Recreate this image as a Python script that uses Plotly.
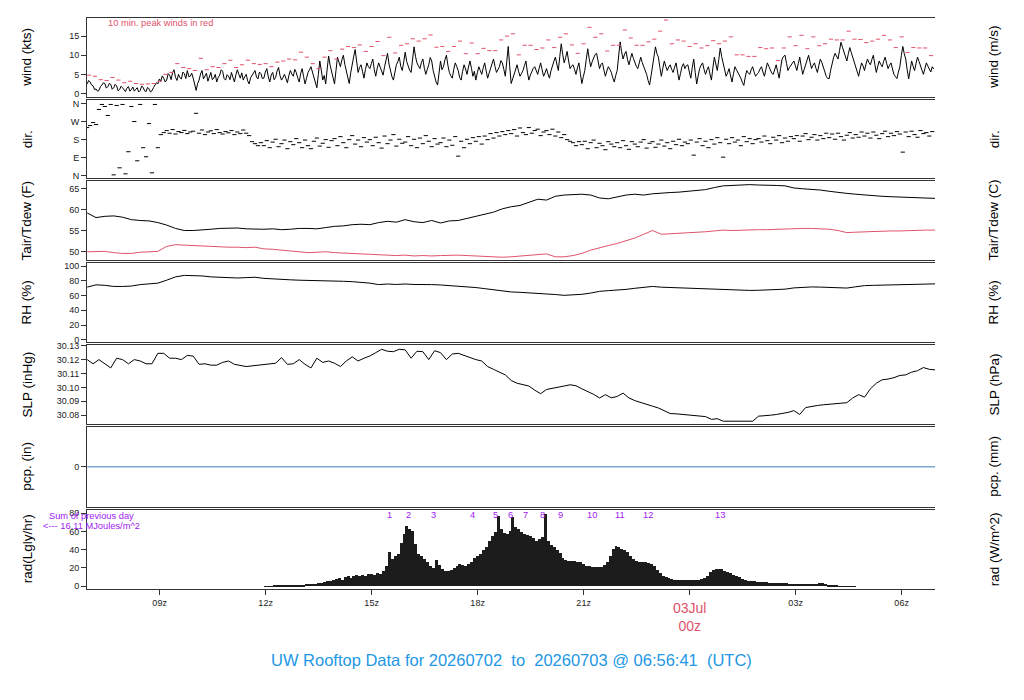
import pandas as pd
import plotly.graph_objects as go

# ---------------- data ----------------
RANGE_START = "2026-07-02 06:56:41"
RANGE_END = "2026-07-03 06:56:41"

# 2.5-minute wind speed (kts) from 06:57 Jul 02 (one row = one hour)
wind_kts = [
    2.5, 3.4, 3.0, 2.2, 2.0, 1.0, 1.2, 0.6, 0.8, 1.8, 2.2, 2.8, 2.6, 1.4, 1.8, 2.6, 2.4, 1.1, 1.5, 2.4, 2.0, 0.7, 1.0, 1.9,
    1.5, 0.9, 0.5, 1.4, 1.8, 0.6, 1.0, 1.7, 0.6, 1.1, 1.5, 0.4, 0.8, 1.9, 1.6, 0.7, 0.5, 1.6, 1.2, 0.4, 0.7, 1.5, 2.0, 2.8,
    2.5, 3.8, 3.2, 4.6, 4.0, 3.0, 3.5, 5.2, 4.8, 3.6, 5.5, 6.2, 4.2, 3.4, 5.0, 4.1, 3.8, 5.6, 5.2, 3.9, 6.0, 4.4, 4.5, 5.3,
    4.0, 2.2, 0.8, 2.6, 3.5, 5.1, 6.0, 3.8, 4.5, 5.3, 3.2, 4.6, 5.5, 3.6, 4.0, 5.0, 3.0, 4.2, 4.8, 6.2, 5.8, 3.9, 3.5, 4.9,
    4.5, 3.6, 5.5, 4.2, 3.0, 4.9, 6.2, 5.0, 4.0, 5.4, 3.5, 4.4, 5.0, 3.3, 2.5, 4.1, 4.8, 5.7, 6.0, 4.3, 3.8, 5.6, 5.2, 3.9,
    4.0, 5.6, 6.5, 4.4, 3.0, 4.8, 5.5, 3.6, 4.2, 5.9, 6.8, 4.6, 3.5, 4.2, 5.0, 3.9, 2.8, 4.7, 6.0, 5.1, 4.5, 6.3, 5.5, 4.1,
    3.0, 5.2, 6.5, 4.4, 2.5, 4.0, 5.5, 6.2, 7.0, 5.6, 4.0, 2.8, 1.5, 5.0, 8.5, 6.1, 3.5, 4.7, 2.5, 6.4, 9.8, 7.4, 6.0, 4.0,
    2.5, 6.0, 9.5, 8.2, 7.0, 8.8, 10.0, 7.6, 6.0, 4.1, 2.6, 5.4, 8.0, 9.6, 11.5, 7.9, 5.5, 6.8, 7.5, 5.8, 4.0, 6.3, 8.0, 7.0,
    6.5, 7.8, 9.0, 6.2, 4.5, 6.6, 8.0, 6.9, 5.5, 4.8, 7.0, 8.7, 10.5, 7.7, 6.0, 4.4, 3.5, 5.9, 7.5, 8.3, 9.5, 7.1, 6.0, 8.2,
    10.8, 8.4, 7.0, 6.1, 5.5, 9.3, 12.2, 9.7, 8.0, 7.2, 6.5, 8.1, 9.0, 6.6, 5.0, 6.3, 7.5, 9.4, 8.5, 6.0, 4.0, 3.0, 2.2, 5.5,
    8.5, 6.2, 7.0, 8.8, 10.0, 7.4, 5.5, 4.6, 4.0, 6.3, 8.0, 7.1, 6.0, 4.2, 3.5, 5.8, 7.5, 6.4, 5.0, 6.9, 8.5, 6.6, 4.5, 5.8,
    3.5, 5.4, 7.0, 6.0, 5.0, 6.7, 8.0, 5.9, 4.0, 5.3, 6.5, 7.9, 9.0, 7.1, 5.5, 6.2, 7.0, 8.6, 8.0, 6.3, 4.5, 8.4, 12.3, 7.0,
    2.6, 3.8, 5.0, 6.4, 7.5, 5.8, 4.5, 5.2, 6.0, 7.3, 8.5, 5.6, 3.5, 4.8, 6.0, 6.6, 7.0, 6.1, 5.0, 6.6, 8.0, 6.2, 4.5, 5.4,
    6.5, 5.1, 4.0, 5.9, 7.5, 8.4, 9.5, 7.7, 6.0, 9.6, 13.0, 10.2, 8.0, 9.4, 11.0, 8.5, 6.5, 7.2, 7.5, 6.3, 5.0, 6.7, 8.0, 5.2,
    2.6, 4.4, 6.0, 8.9, 11.7, 9.1, 7.0, 8.3, 9.5, 10.2, 10.5, 8.4, 6.5, 7.6, 8.0, 6.1, 4.5, 5.9, 7.0, 6.3, 5.5, 4.1, 3.0, 4.7,
    6.0, 9.8, 13.5, 10.9, 9.0, 10.3, 11.0, 8.9, 7.5, 9.1, 10.5, 9.2, 8.0, 7.1, 6.5, 8.2, 9.5, 8.1, 7.0, 6.2, 5.0, 3.4, 2.2, 4.6,
    7.0, 9.9, 12.2, 10.4, 9.5, 6.8, 4.5, 6.6, 8.5, 7.1, 6.0, 6.9, 7.5, 6.3, 5.5, 6.9, 8.0, 5.6, 3.5, 5.2, 7.0, 7.8, 6.5, 7.3,
    7.5, 5.6, 4.0, 6.8, 9.0, 5.5, 2.5, 4.6, 6.5, 7.4, 8.0, 6.3, 5.0, 6.2, 7.0, 5.1, 3.5, 6.7, 9.5, 7.7, 6.0, 8.8, 11.9, 9.6,
    8.0, 6.1, 4.5, 5.4, 6.5, 4.6, 3.0, 5.2, 7.0, 6.2, 5.5, 4.6, 4.0, 2.9, 2.1, 4.3, 6.0, 5.4, 5.0, 6.2, 7.0, 5.6, 4.5, 5.0,
    5.5, 6.4, 7.0, 5.6, 4.5, 6.3, 8.0, 7.1, 6.0, 5.3, 5.0, 6.4, 7.5, 5.7, 4.0, 6.6, 9.0, 9.7, 10.0, 7.9, 6.0, 6.8, 7.5, 8.1,
    8.5, 7.3, 6.0, 7.8, 9.5, 7.1, 5.0, 6.3, 7.5, 8.9, 10.0, 8.2, 6.5, 7.4, 8.0, 6.6, 5.5, 7.4, 9.0, 8.1, 7.0, 5.5, 4.5, 3.9,
    3.9, 6.1, 8.0, 9.4, 10.5, 9.6, 9.0, 11.2, 13.4, 12.1, 11.0, 9.6, 8.5, 10.4, 12.0, 10.7, 9.5, 8.2, 7.0, 5.6, 4.5, 6.4, 8.0, 7.2,
    6.0, 7.7, 9.0, 8.1, 7.5, 8.9, 10.0, 7.6, 5.5, 7.1, 8.5, 7.6, 7.0, 8.4, 9.5, 7.9, 6.5, 7.4, 8.0, 6.4, 5.0, 4.4, 3.9, 5.6,
    7.0, 9.9, 12.3, 10.4, 9.0, 6.1, 3.8, 6.2, 8.5, 7.1, 6.0, 7.9, 9.5, 8.4, 7.5, 6.1, 5.0, 6.6, 8.0, 7.2, 6.5, 5.6, 7.0, 6.4,
]

# 10-minute peak wind (kts) from 07:00 Jul 02
peak_kts = [
    4.8, 4.5, 3.6, 3.4, 4.2, 3.5, 2.8, 3.2, 2.6, 2.4, 2.5, 2.6,
    3.2, 5.0, 5.5, 7.8, 6.8, 6.5, 6.0, 9.2, 6.2, 7.0, 6.8, 7.8,
    8.7, 6.8, 7.5, 8.7, 7.8, 7.6, 7.8, 7.0, 8.2, 8.5, 9.0, 8.8,
    10.8, 9.5, 7.8, 6.5, 9.5, 11.2, 9.0, 11.6, 12.3, 12.0, 12.7, 11.0,
    12.3, 13.6, 9.9, 14.7, 10.6, 12.6, 13.0, 14.3, 13.7, 14.3, 15.3, 12.1,
    12.3, 11.0, 12.3, 13.7, 10.4, 13.2, 10.4, 11.8, 11.2, 11.2, 14.0, 15.0,
    15.6, 10.1, 12.6, 12.6, 11.5, 11.9, 14.0, 12.0, 14.7, 15.6, 12.7, 10.5,
    13.0, 17.3, 14.7, 15.6, 11.1, 12.6, 12.6, 16.6, 14.5, 12.6, 12.6, 13.5,
    14.2, 16.3, 19.2, 13.0, 14.0, 13.7, 12.3, 13.0, 11.9, 12.5, 13.8, 13.0,
    13.7, 14.8, 10.1, 10.1, 9.7, 9.7, 12.0, 11.7, 11.9, 8.6, 11.9, 14.8,
    12.5, 15.2, 11.7, 14.8, 12.5, 13.0, 14.2, 14.0, 14.0, 16.3, 14.2, 14.1,
    13.3, 13.7, 14.2, 15.2, 14.0, 12.0, 14.8, 10.7, 12.0, 11.9, 11.9, 9.9,
]

# 5-minute wind direction (deg) from 06:57 Jul 02
dir_deg = [
    240, 250, 265, 255, 330, 355, 345, 300, 355, 5, 350, 40,
    355, 10, 120, 345, 270, 75, 355, 140, 95, 260, 15, 355,
    140, 205, 215, 225, 212, 230, 208, 220, 215, 226, 210, 218,
    222, 311, 212, 228, 205, 218, 224, 210, 230, 215, 208, 220,
    214, 225, 205, 218, 210, 228, 212, 200, 170, 160, 150, 165,
    150, 175, 140, 168, 182, 145, 160, 178, 135, 170, 155, 185,
    165, 140, 178, 150, 135, 172, 188, 148, 162, 180, 142, 175,
    185, 150, 195, 165, 140, 180, 200, 158, 178, 145, 190, 168,
    180, 150, 192, 165, 138, 198, 160, 178, 205, 148, 182, 162,
    168, 195, 150, 182, 140, 188, 160, 200, 172, 145, 185, 158,
    165, 188, 145, 178, 152, 195, 98, 172, 140, 182, 160, 190,
    172, 195, 158, 198, 180, 210, 188, 215, 198, 220, 205, 225,
    210, 230, 198, 238, 215, 205, 240, 212, 225, 232, 200, 218,
    225, 205, 232, 198, 218, 190, 205, 180, 172, 165, 150, 170,
    155, 172, 135, 165, 178, 140, 162, 150, 130, 170, 158, 145,
    165, 140, 175, 150, 132, 170, 158, 145, 168, 180, 138, 162,
    170, 142, 158, 178, 148, 165, 135, 172, 155, 182, 150, 168,
    160, 178, 103, 168, 185, 150, 172, 140, 180, 158, 190, 165,
    93, 182, 160, 190, 168, 178, 150, 195, 170, 185, 160, 180,
    185, 168, 198, 175, 160, 192, 178, 200, 165, 188, 172, 195,
    185, 200, 172, 198, 210, 180, 192, 205, 178, 200, 185, 212,
    190, 208, 182, 212, 195, 178, 202, 215, 188, 205, 192, 218,
    198, 212, 188, 218, 202, 185, 210, 222, 195, 212, 200, 220,
    208, 118, 218, 195, 222, 205, 192, 225, 210, 215, 198, 220,
]

# 15-minute air temperature and dew point (F) from 06:57 Jul 02
tair_f = [
    59.2, 58.1, 58.4, 58.5, 58.2, 57.6, 57.4, 57.3, 56.9, 56.3, 55.5, 55.0,
    55.0, 55.1, 55.3, 55.5, 55.5, 55.6, 55.4, 55.3, 55.3, 55.4, 55.2, 55.3,
    55.5, 55.5, 55.4, 55.7, 56.0, 56.1, 56.4, 56.5, 56.4, 56.9, 57.2, 57.0,
    57.6, 57.1, 56.9, 57.4, 56.8, 57.3, 57.4, 57.9, 58.4, 58.8, 59.4, 60.2,
    60.7, 61.0, 61.8, 62.5, 62.3, 63.2, 63.5, 63.6, 63.7, 63.5, 62.8, 62.6,
    63.0, 63.5, 63.7, 63.5, 63.8, 64.0, 64.1, 64.2, 64.4, 64.6, 64.8, 65.3,
    65.7, 65.8, 65.9, 66.0, 65.9, 65.9, 65.8, 65.7, 65.2, 65.0, 64.9, 64.7,
    64.4, 64.1, 63.9, 63.7, 63.5, 63.3, 63.2, 63.1, 63.0, 62.9, 62.8, 62.7,
    62.7,
]
tdew_f = [
    49.9, 50.0, 50.0, 49.7, 49.5, 49.5, 49.8, 49.9, 50.0, 51.2, 51.6, 51.5,
    51.4, 51.2, 51.1, 51.0, 51.0, 51.0, 50.9, 51.0, 50.6, 50.5, 50.3, 50.1,
    50.0, 49.7, 49.8, 49.9, 49.7, 49.6, 49.5, 49.3, 49.2, 49.2, 49.0, 49.0,
    49.1, 48.9, 49.0, 48.9, 49.0, 49.1, 49.1, 49.0, 48.9, 48.8, 48.7, 48.6,
    48.7, 48.9, 49.0, 49.2, 49.4, 48.7, 48.7, 49.0, 49.5, 50.3, 50.9, 51.4,
    51.9, 52.6, 53.2, 54.1, 55.0, 54.1, 54.2, 54.3, 54.4, 54.5, 54.7, 54.9,
    55.1, 55.0, 55.1, 55.2, 55.2, 55.2, 55.3, 55.4, 55.4, 55.5, 55.5, 55.4,
    55.3, 55.0, 54.5, 54.6, 54.7, 54.8, 54.8, 54.9, 54.9, 55.0, 55.0, 55.1,
    55.1,
]

# 15-minute relative humidity (%) from 06:57 Jul 02
rh_pct = [
    71.6, 74.7, 74.0, 72.5, 72.5, 73.0, 75.0, 76.0, 77.0, 81.0, 85.5, 87.5,
    87.5, 86.8, 85.5, 84.8, 84.2, 84.0, 84.5, 85.0, 83.5, 82.5, 82.0, 81.5,
    81.0, 80.5, 80.0, 80.5, 80.0, 79.5, 79.0, 78.4, 77.0, 75.0, 75.8, 75.2,
    75.8, 75.2, 75.5, 75.0, 74.5, 73.8, 73.0, 72.3, 71.0, 69.5, 67.8, 66.5,
    65.0, 64.5, 64.0, 63.0, 62.6, 61.5, 60.4, 60.8, 61.8, 63.5, 65.8, 66.8,
    67.5, 68.5, 70.0, 71.5, 72.5, 71.5, 71.0, 70.8, 70.5, 70.3, 70.0, 69.0,
    68.3, 68.0, 67.5, 67.1, 67.3, 67.8, 68.2, 68.8, 70.5, 71.6, 71.8, 71.6,
    71.0, 70.6, 70.3, 72.0, 73.6, 74.0, 74.3, 74.5, 74.7, 75.0, 75.4, 75.8,
    76.0,
]

# 10-minute sea level pressure (inHg) from 06:57 Jul 02
slp_inhg = [
    30.120, 30.117, 30.120, 30.117, 30.114, 30.121, 30.120, 30.117, 30.120, 30.119, 30.117, 30.117,
    30.1245, 30.1245, 30.121, 30.121, 30.120, 30.123, 30.1225, 30.1166, 30.117, 30.116, 30.116, 30.118,
    30.119, 30.1166, 30.116, 30.115, 30.1155, 30.116, 30.1166, 30.117, 30.1174, 30.1214, 30.1166, 30.117,
    30.120, 30.1166, 30.114, 30.121, 30.118, 30.119, 30.1174, 30.115, 30.119, 30.122, 30.119, 30.121,
    30.1226, 30.125, 30.1274, 30.126, 30.1257, 30.1274, 30.127, 30.121, 30.126, 30.1257, 30.120, 30.1264,
    30.125, 30.120, 30.124, 30.1245, 30.123, 30.121, 30.120, 30.119, 30.115, 30.113, 30.111, 30.109,
    30.105, 30.103, 30.102, 30.101, 30.098, 30.0955, 30.0985, 30.0995, 30.100, 30.101, 30.1019, 30.1012,
    30.099, 30.097, 30.095, 30.0924, 30.0948, 30.0925, 30.0935, 30.0959, 30.0924, 30.0905, 30.089, 30.0876,
    30.0865, 30.0852, 30.083, 30.0812, 30.081, 30.0805, 30.080, 30.0795, 30.0793, 30.079, 30.077, 30.0775,
    30.0757, 30.0757, 30.076, 30.0757, 30.0762, 30.0757, 30.0793, 30.0795, 30.080, 30.0805, 30.0812, 30.082,
    30.0833, 30.0805, 30.0855, 30.0864, 30.087, 30.0875, 30.088, 30.0885, 30.0888, 30.089, 30.0924, 30.0948,
    30.093, 30.099, 30.103, 30.1055, 30.106, 30.107, 30.1086, 30.109, 30.111, 30.112, 30.1143, 30.113,
    30.1126,
]

# hourly precipitation (in)
pcp_in = [0.0] * 25

# 5-minute solar radiation (Langley/hr) from 12:00 Jul 02
rad_lyhr = [
    0.3, 0.4, 0.5, 0.6, 0.7, 0.8, 1.0, 1.1, 1.3, 1.5, 1.6, 1.8,
    1.9, 2.1, 2.3, 2.5, 2.8, 3.2, 3.6, 4.2, 5.0, 5.8, 6.5, 7.5,
    8.0, 9.0, 7.5, 10.0, 11.0, 9.0, 12.0, 12.5, 11.0, 13.0, 12.0, 14.0,
    14.0, 13.0, 15.0, 14.0, 17.0, 23.0, 38.0, 30.0, 34.0, 36.0, 48.0, 58.0,
    67.0, 63.0, 61.0, 47.0, 36.0, 34.0, 30.0, 27.0, 22.0, 20.0, 29.0, 24.0,
    19.0, 17.0, 17.5, 18.5, 20.0, 22.0, 25.0, 24.0, 23.0, 25.0, 27.0, 31.0,
    33.0, 36.0, 40.0, 43.0, 50.0, 55.0, 60.0, 78.0, 63.0, 59.0, 58.0, 61.0,
    76.0, 65.0, 63.0, 60.0, 58.0, 57.0, 56.0, 53.0, 50.0, 52.0, 54.0, 80.0,
    50.0, 46.0, 43.0, 40.0, 37.0, 31.0, 29.0, 28.0, 28.0, 27.5, 27.0, 26.5,
    25.0, 23.0, 22.0, 21.5, 21.0, 21.0, 21.5, 24.0, 27.0, 34.0, 41.0, 45.0,
    43.0, 41.0, 40.0, 38.0, 34.0, 30.0, 28.0, 27.0, 26.6, 26.5, 26.0, 25.0,
    22.0, 18.0, 15.0, 12.0, 10.0, 9.0, 8.0, 7.5, 7.3, 7.2, 7.0, 7.0,
    7.1, 7.2, 7.3, 7.5, 8.0, 9.0, 12.0, 16.0, 18.6, 19.5, 19.7, 19.0,
    17.5, 16.0, 14.5, 13.0, 11.5, 10.0, 8.5, 7.3, 6.5, 6.0, 5.5, 5.2,
    5.0, 4.7, 4.5, 4.3, 4.2, 4.0, 3.8, 3.6, 3.5, 3.3, 3.2, 3.1,
    3.0, 3.0, 3.1, 2.9, 3.0, 3.1, 3.0, 3.1, 3.6, 4.0, 2.5, 1.5,
    1.0, 0.8, 0.6, 0.5, 0.4, 0.3, 0.25, 0.2, 0.15,
]

rad_label_times = [
    "2026-07-02 15:31", "2026-07-02 16:03", "2026-07-02 16:45", "2026-07-02 17:51",
    "2026-07-02 18:31", "2026-07-02 18:56", "2026-07-02 19:21", "2026-07-02 19:50",
    "2026-07-02 20:21", "2026-07-02 21:15", "2026-07-02 22:01", "2026-07-02 22:50",
    "2026-07-03 00:51",
]
rad_label_text = ["1", "2", "3", "4", "5", "6", "7", "8", "9", "10", "11", "12", "13"]

tick_times = [
    "2026-07-02 09:00", "2026-07-02 12:00", "2026-07-02 15:00", "2026-07-02 18:00",
    "2026-07-02 21:00", "2026-07-03 00:00", "2026-07-03 03:00", "2026-07-03 06:00",
]
tick_text = ["09z", "12z", "15z", "18z", "21z", "", "03z", "06z"]

# time grids (regular sampling instants)
wind_times = pd.date_range("2026-07-02 06:57", periods=len(wind_kts), freq="150s")
peak_times = pd.date_range("2026-07-02 07:00", periods=len(peak_kts), freq="10min")
dir_times = pd.date_range("2026-07-02 06:57", periods=len(dir_deg), freq="5min")
temp_times = pd.date_range("2026-07-02 06:57", periods=len(tair_f), freq="15min")
rh_times = pd.date_range("2026-07-02 06:57", periods=len(rh_pct), freq="15min")
slp_times = pd.date_range("2026-07-02 06:57", periods=len(slp_inhg), freq="10min")
pcp_times = pd.date_range("2026-07-02 06:57", periods=len(pcp_in), freq="60min")
rad_times = pd.date_range("2026-07-02 12:00", periods=len(rad_lyhr), freq="5min")

# ---------------- styling ----------------
FONT = "Liberation Sans, Arial, sans-serif"
RED = "#DF536B"
BLUE_TITLE = "#2297E6"
PCP_BLUE = "#3C7DC4"
PURPLE = "#A020F0"
AXC = "#333333"

OFF = 8  # page body margin offset
W, H = 1016, 692
ML, MT, MR, MB = 79, 6, 89, 111
PW = W - ML - MR
PH = H - MT - MB


def py(pix):
    return (H - MB - (pix - OFF)) / PH


def px(pix):
    return (pix - OFF - ML) / PW


panels = [(14, 94), (97, 175), (178, 258), (261, 340), (343, 423), (426, 506), (509, 589)]
domains = [[py(b), py(t)] for t, b in panels]

KT_PER_MS = 1.94384
LY_TO_W = 11.622
HPA_PER_INHG = 33.8639

left_specs = [
    dict(range=[-1.04, 19.74], tickvals=[0, 5, 10, 15], ticktext=["0", "5", "10", "15"]),
    dict(range=[-10, 375], tickvals=[0, 90, 180, 270, 360], ticktext=["N", "E", "S", "W", "N"]),
    dict(range=[47.86, 66.9], tickvals=[50, 55, 60, 65], ticktext=["50", "55", "60", "65"]),
    dict(range=[-2.7, 104], tickvals=[0, 20, 40, 60, 80, 100],
         ticktext=["0", "20", "40", "60", "80", "100"]),
    dict(range=[30.07357, 30.13071], tickvals=[30.08, 30.09, 30.10, 30.11, 30.12, 30.13],
         ticktext=["30.08", "30.09", "30.10", "30.11", "30.12", "30.13"]),
    dict(range=[-1, 1], tickvals=[0], ticktext=["0"]),
    dict(range=[-3.28, 84.15], tickvals=[0, 20, 40, 60, 80], ticktext=["0", "20", "40", "60", "80"]),
]
lr = left_specs
right_specs = [
    dict(range=[lr[0]["range"][0] / KT_PER_MS, lr[0]["range"][1] / KT_PER_MS],
         tickvals=[0, 2, 4, 6, 8, 10], ticktext=["0", "2", "4", "6", "8", "10"]),
    dict(range=lr[1]["range"], tickvals=[0, 90, 180, 270, 360], ticktext=["N", "E", "S", "W", "N"]),
    dict(range=[(lr[2]["range"][0] - 32) / 1.8, (lr[2]["range"][1] - 32) / 1.8],
         tickvals=[10, 12, 14, 16, 18], ticktext=["10", "12", "14", "16", "18"]),
    dict(range=lr[3]["range"], tickvals=[0, 20, 40, 60, 80, 100],
         ticktext=["0", "20", "40", "60", "80", "100"]),
    dict(range=[lr[4]["range"][0] * HPA_PER_INHG, lr[4]["range"][1] * HPA_PER_INHG],
         tickvals=[1018.5, 1019, 1019.5, 1020], ticktext=["1018.5", "1019", "1019.5", "1020"]),
    dict(range=[-1, 1], tickvals=[0], ticktext=["0"]),
    dict(range=[lr[6]["range"][0] * LY_TO_W, lr[6]["range"][1] * LY_TO_W],
         tickvals=[0, 200, 400, 600, 800], ticktext=["0", "200", "400", "600", "800"]),
]
left_titles = ["wind (kts)", "dir.", "Tair/Tdew (F)", "RH (%)", "SLP (inHg)", "pcp. (in)", "rad(Lgly/hr)"]
right_titles = ["wind (m/s)", "dir.", "Tair/Tdew (C)", "RH (%)", "SLP (hPa)", "pcp. (mm)", "rad (W/m^2)"]


def xa(p):
    return "x" if p == 1 else f"x{p}"


def ya(p):
    return "y" if p == 1 else f"y{p}"


fig = go.Figure()

# panel 1: wind
fig.add_trace(go.Scatter(x=wind_times, y=wind_kts, mode="lines",
                         line=dict(color="black", width=1), xaxis=xa(1), yaxis=ya(1)))
fig.add_trace(go.Scatter(x=peak_times, y=peak_kts, mode="markers",
                         marker=dict(symbol="line-ew", size=3, line=dict(color=RED, width=1)),
                         xaxis=xa(1), yaxis=ya(1)))
# panel 2: direction
fig.add_trace(go.Scatter(x=dir_times, y=dir_deg, mode="markers",
                         marker=dict(symbol="line-ew", size=3, line=dict(color="black", width=1)),
                         xaxis=xa(2), yaxis=ya(2)))
# panel 3: temperatures
fig.add_trace(go.Scatter(x=temp_times, y=tair_f, mode="lines",
                         line=dict(color="black", width=1), xaxis=xa(3), yaxis=ya(3)))
fig.add_trace(go.Scatter(x=temp_times, y=tdew_f, mode="lines",
                         line=dict(color=RED, width=1), xaxis=xa(3), yaxis=ya(3)))
# panel 4: RH
fig.add_trace(go.Scatter(x=rh_times, y=rh_pct, mode="lines",
                         line=dict(color="black", width=1), xaxis=xa(4), yaxis=ya(4)))
# panel 5: SLP
fig.add_trace(go.Scatter(x=slp_times, y=slp_inhg, mode="lines",
                         line=dict(color="black", width=1), xaxis=xa(5), yaxis=ya(5)))
# panel 6: precipitation
fig.add_trace(go.Scatter(x=pcp_times, y=pcp_in, mode="lines",
                         line=dict(color=PCP_BLUE, width=1), xaxis=xa(6), yaxis=ya(6)))
# panel 7: radiation
fig.add_trace(go.Bar(x=rad_times, y=rad_lyhr, marker=dict(color="#1c1c1c", line=dict(width=0)),
                     xaxis=xa(7), yaxis=ya(7)))

layout = dict(
    width=W, height=H,
    margin=dict(l=ML, r=MR, t=MT, b=MB),
    paper_bgcolor="white", plot_bgcolor="white",
    showlegend=False, bargap=0,
    font=dict(family=FONT, size=9, color="#222222"),
)

for p in range(1, 8):
    xname = "xaxis" if p == 1 else f"xaxis{p}"
    xd = dict(
        domain=[0, 1], anchor=ya(p), type="date", range=[RANGE_START, RANGE_END],
        showline=True, mirror=True, linecolor=AXC, linewidth=1,
        showgrid=False, zeroline=False,
        ticks="", showticklabels=False,
    )
    if p > 1:
        xd["matches"] = "x"
    if p == 7:
        xd.update(ticks="outside", ticklen=5, tickcolor=AXC, showticklabels=True,
                  tickvals=tick_times, ticktext=tick_text,
                  tickfont=dict(size=9, color="#222222"))
    layout[xname] = xd

    yname = "yaxis" if p == 1 else f"yaxis{p}"
    ls = left_specs[p - 1]
    layout[yname] = dict(
        domain=domains[p - 1], anchor=xa(p), side="left",
        range=ls["range"], tickvals=ls["tickvals"], ticktext=ls["ticktext"],
        tickmode="array", ticks="outside", ticklen=5, tickcolor=AXC,
        showline=True, linecolor=AXC, linewidth=1,
        showgrid=False, zeroline=False, tickfont=dict(size=9, color="#222222"),
    )
    rs = right_specs[p - 1]
    layout[f"yaxis{p + 7}"] = dict(
        overlaying=ya(p), anchor=xa(p), side="right",
        range=rs["range"], tickvals=rs["tickvals"], ticktext=rs["ticktext"],
        tickmode="array", ticks="outside", ticklen=5, tickcolor=AXC,
        showline=True, linecolor=AXC, linewidth=1, ticklabelstandoff=7,
        showgrid=False, zeroline=False, tickfont=dict(size=9, color="#222222"),
    )

annotations = []
for p in range(1, 8):
    t, b = panels[p - 1]
    yc = py((t + b) / 2)
    annotations.append(dict(text=left_titles[p - 1], x=px(27), y=yc, xref="paper", yref="paper",
                            textangle=-90, showarrow=False, xanchor="center", yanchor="middle",
                            font=dict(size=13.5, color="black")))
    annotations.append(dict(text=right_titles[p - 1], x=px(994), y=yc, xref="paper", yref="paper",
                            textangle=-90, showarrow=False, xanchor="center", yanchor="middle",
                            font=dict(size=13.5, color="black")))

annotations.append(dict(text="10 min. peak winds in red", x=px(106), y=py(19),
                        xref="paper", yref="paper", showarrow=False,
                        xanchor="left", yanchor="middle", font=dict(size=9.3, color=RED)))
annotations.append(dict(text="Sum of previous day", x=px(91), y=py(515),
                        xref="paper", yref="paper", showarrow=False,
                        xanchor="center", yanchor="middle", font=dict(size=9.3, color=PURPLE)))
annotations.append(dict(text="<--- 16.11 MJoules/m^2", x=px(91), y=py(526),
                        xref="paper", yref="paper", showarrow=False,
                        xanchor="center", yanchor="middle", font=dict(size=9.3, color=PURPLE)))
for tt, lab in zip(rad_label_times, rad_label_text):
    annotations.append(dict(text=lab, x=tt, y=py(514), xref="x7", yref="paper", showarrow=False,
                            xanchor="center", yanchor="middle", font=dict(size=9.3, color=PURPLE)))
annotations.append(dict(text="03Jul<br>00z", x="2026-07-03 00:00", y=py(598),
                        xref="x7", yref="paper", showarrow=False,
                        xanchor="center", yanchor="top", font=dict(size=14, color=RED)))
annotations.append(dict(text="UW Rooftop Data for 20260702  to  20260703 @ 06:56:41  (UTC)",
                        x=0.5, y=py(660), xref="paper", yref="paper", showarrow=False,
                        xanchor="center", yanchor="middle", font=dict(size=16.5, color=BLUE_TITLE)))
layout["annotations"] = annotations

fig.update_layout(**layout)
fig.write_html("out.html")
